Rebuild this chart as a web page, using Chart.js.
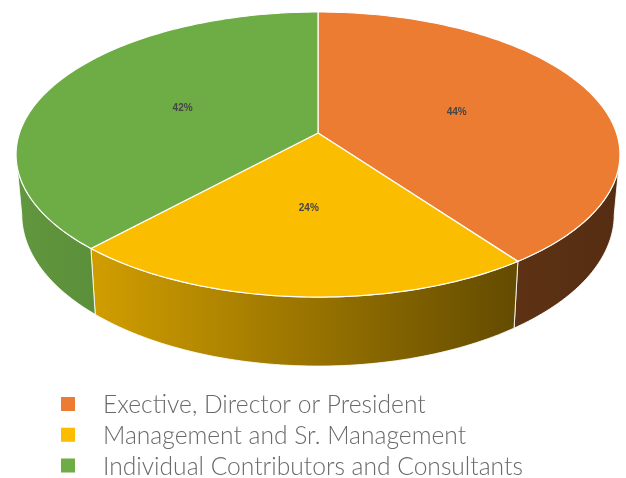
<!DOCTYPE html>
<html>
<head>
<meta charset="utf-8">
<script src="https://cdn.jsdelivr.net/npm/chart.js@4.4.0/dist/chart.umd.min.js"></script>
<style>
  html, body { margin: 0; padding: 0; background: #ffffff; }
  #pie { display: block; }
</style>
</head>
<body>
<canvas id="pie" width="626" height="478"></canvas>
<script>
const categories = [
    'Exective, Director or President',
    'Management and Sr. Management',
    'Individual Contributors and Consultants'
];
const shares = [44, 24, 42];
const sliceColors = ['#EB7C31', '#FABD00', '#6EAC46'];

// perspective of the tilted 3D pie (screen geometry, not data)
const view = { cx: 318, cy: 133, a: 298.5, b: 139.3, k: 0.151, depth: 58.6, shrink: 0.981 };

function project(r, theta, bottom) {
    const u = r * Math.sin(theta), v = r * Math.cos(theta);
    const s = 1 / (1 + view.k * v);
    let x = view.cx + view.a * u * s;
    let y = view.cy - view.b * v * s;
    if (bottom) {
        x = view.cx + (x - view.cx) * view.shrink;
        y += view.depth * s;
    }
    return [x, y];
}

function shade(hex, f) {
    const n = parseInt(hex.slice(1), 16);
    const r = Math.round(((n >> 16) & 255) * f);
    const g = Math.round(((n >> 8) & 255) * f);
    const b = Math.round((n & 255) * f);
    return `rgb(${r},${g},${b})`;
}

function arcPoints(t0, t1, bottom) {
    const pts = [];
    const steps = Math.max(8, Math.ceil((t1 - t0) / 0.02));
    for (let i = 0; i <= steps; i++) {
        pts.push(project(1, t0 + (t1 - t0) * i / steps, bottom));
    }
    return pts;
}

const pie3d = {
    id: 'pie3d',
    beforeDatasetsDraw(chart) {
        const ctx = chart.ctx;
        const arcs = chart.getDatasetMeta(0).data;
        const colors = chart.data.datasets[0].backgroundColor;
        const values = chart.data.datasets[0].data;
        const visR = Math.acos(-view.k);
        const visL = 2 * Math.PI - visR;

        ctx.save();
        // side walls
        arcs.forEach((arc, i) => {
            const start = arc.startAngle + Math.PI / 2;
            const end = arc.endAngle + Math.PI / 2;
            const t0 = Math.max(start, visR), t1 = Math.min(end, visL);
            if (t0 >= t1) return;
            const top = arcPoints(t0, t1, false);
            const bot = arcPoints(t0, t1, true).reverse();
            const grad = ctx.createLinearGradient(16, 0, 620, 0);
            grad.addColorStop(0, shade(colors[i], 0.88));
            grad.addColorStop(0.132, shade(colors[i], 0.83));
            grad.addColorStop(0.823, shade(colors[i], 0.40));
            grad.addColorStop(1, shade(colors[i], 0.36));
            ctx.beginPath();
            top.concat(bot).forEach((p, j) => j ? ctx.lineTo(p[0], p[1]) : ctx.moveTo(p[0], p[1]));
            ctx.closePath();
            ctx.fillStyle = grad;
            ctx.fill();
            ctx.strokeStyle = 'rgba(255,255,255,0.85)';
            ctx.lineWidth = 1;
            ctx.stroke();
        });

        // top faces
        arcs.forEach((arc, i) => {
            const start = arc.startAngle + Math.PI / 2;
            const end = arc.endAngle + Math.PI / 2;
            ctx.beginPath();
            ctx.moveTo(view.cx, view.cy);
            arcPoints(start, end, false).forEach(p => ctx.lineTo(p[0], p[1]));
            ctx.closePath();
            ctx.fillStyle = colors[i];
            ctx.fill();
            ctx.strokeStyle = '#ffffff';
            ctx.lineWidth = 1.2;
            ctx.stroke();
        });

        // data labels
        ctx.font = 'bold 10px "Liberation Sans", Arial, sans-serif';
        ctx.fillStyle = '#454545';
        ctx.textAlign = 'center';
        ctx.textBaseline = 'middle';
        arcs.forEach((arc, i) => {
            const mid = (arc.startAngle + arc.endAngle) / 2 + Math.PI / 2;
            const p = project(0.5, mid, false);
            ctx.fillText(values[i] + '%', p[0], p[1]);
        });
        ctx.restore();
        return false;
    },
    afterDraw(chart) {
        const ctx = chart.ctx;
        const colors = chart.data.datasets[0].backgroundColor;
        ctx.save();
        ctx.font = '300 24.6px Lato, "Open Sans", sans-serif';
        ctx.textAlign = 'left';
        ctx.textBaseline = 'alphabetic';
        chart.data.labels.forEach((label, i) => {
            const base = 413 + i * 30.75;
            ctx.fillStyle = colors[i];
            ctx.fillRect(61, base - 16, 14, 14);
            ctx.fillStyle = '#6a6a6a';
            ctx.fillText(label, 103, base);
        });
        ctx.restore();
    }
};

new Chart(document.getElementById('pie'), {
    type: 'pie',
    data: {
        labels: categories,
        datasets: [{
            data: shares,
            backgroundColor: sliceColors,
            borderWidth: 0
        }]
    },
    options: {
        responsive: false,
        animation: false,
        events: [],
        plugins: {
            legend: { display: false },
            tooltip: { enabled: false }
        }
    },
    plugins: [pie3d]
});
</script>
</body>
</html>
